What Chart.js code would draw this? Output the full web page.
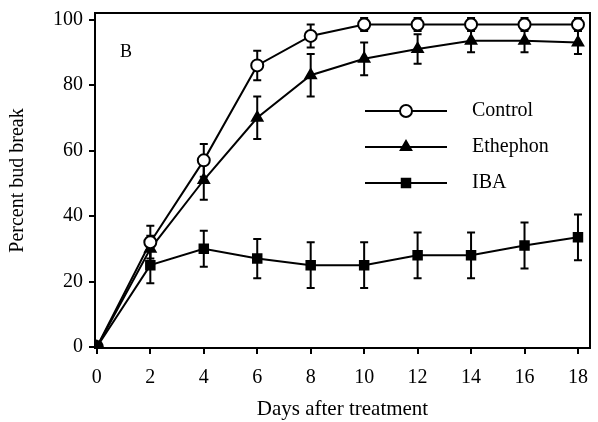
<!DOCTYPE html>
<html>
<head>
<meta charset="utf-8">
<script src="https://cdn.jsdelivr.net/npm/chart.js@4/dist/chart.umd.min.js"></script>
<style>
  body { margin: 0; background: #fff; }
  #wrap { width: 598px; height: 422px; }
</style>
</head>
<body>
<div id="wrap"><canvas id="budChart"></canvas></div>
<script>
var days = [0, 2, 4, 6, 8, 10, 12, 14, 16, 18];
var seriesNames = ['Control', 'Ethephon', 'IBA'];

var controlVals = [0, 32, 57, 86, 95, 98.5, 98.5, 98.5, 98.5, 98.5];
var controlErr  = [0, 5, 5, 4.5, 3.5, 2, 2, 2, 2, 2];

var ethephonVals = [0, 30, 51, 70, 83, 88, 91, 93.5, 93.5, 93];
var ethephonErr  = [0, 4, 6, 6.5, 6.5, 5, 4.5, 3.5, 3.5, 3.5];

var ibaVals = [0, 25, 30, 27, 25, 25, 28, 28, 31, 33.5];
var ibaErr  = [0, 5.5, 5.5, 6, 7, 7, 7, 7, 7, 7];

var yTicks = [0, 20, 40, 60, 80, 100];
var xTicks = [0, 2, 4, 6, 8, 10, 12, 14, 16, 18];

var serif = "'Liberation Serif', 'DejaVu Serif', serif";

function toPoints(vals) {
    return days.map(function (d, i) { return { x: d, y: vals[i] }; });
}

// error bars go under the markers
var errorBars = {
    id: 'errorBars',
    beforeDatasetsDraw: function (chart) {
        var ctx = chart.ctx;
        var xs = chart.scales.x, ys = chart.scales.y;
        ctx.save();
        ctx.strokeStyle = '#000';
        ctx.lineWidth = 2;
        chart.data.datasets.forEach(function (ds) {
            ds.errors.forEach(function (e, i) {
                if (!e) return;
                var px = xs.getPixelForValue(ds.data[i].x);
                var top = ys.getPixelForValue(ds.data[i].y + e);
                var bot = ys.getPixelForValue(ds.data[i].y - e);
                ctx.beginPath();
                ctx.moveTo(px, top); ctx.lineTo(px, bot);
                ctx.moveTo(px - 4, top); ctx.lineTo(px + 4, top);
                ctx.moveTo(px - 4, bot); ctx.lineTo(px + 4, bot);
                ctx.stroke();
            });
        });
        ctx.restore();
    }
};

// frame, panel letter and legend
var extras = {
    id: 'extras',
    afterDatasetsDraw: function (chart) {
        var ctx = chart.ctx;
        var area = chart.chartArea;
        ctx.save();
        ctx.strokeStyle = '#000';
        ctx.lineWidth = 2;
        ctx.beginPath();
        ctx.moveTo(area.left, area.top);
        ctx.lineTo(area.right, area.top);
        ctx.lineTo(area.right, area.bottom);
        ctx.stroke();

        ctx.fillStyle = '#000';
        ctx.font = '18px ' + serif;
        ctx.textAlign = 'left';
        ctx.textBaseline = 'middle';
        ctx.fillText('B', 120, 52);

        var rows = [111, 147, 183];
        var fills = ['#fff', '#000', '#000'];
        chart.data.datasets.forEach(function (ds, i) {
            var y = rows[i];
            ctx.strokeStyle = '#000';
            ctx.lineWidth = 2;
            ctx.beginPath();
            ctx.moveTo(365, y); ctx.lineTo(447, y);
            ctx.stroke();
            ctx.fillStyle = fills[i];
            Chart.helpers.drawPoint(ctx, { pointStyle: ds.pointStyle, radius: 6, borderWidth: 2 }, 406, y);
            ctx.fillStyle = '#000';
            ctx.font = '20px ' + serif;
            ctx.fillText(ds.label, 472, y);
        });
        ctx.restore();
    }
};

var ctx = document.getElementById('budChart').getContext('2d');
var budChart = new Chart(ctx, {
    type: 'line',
    data: {
        datasets: [{
            label: seriesNames[0],
            data: toPoints(controlVals),
            errors: controlErr,
            borderColor: '#000',
            borderWidth: 2,
            pointStyle: 'circle',
            pointRadius: 6,
            pointBorderWidth: 2,
            pointBackgroundColor: days.map(function (d) { return d === 0 ? '#000' : '#fff'; }),
            pointBorderColor: '#000',
            tension: 0
        }, {
            label: seriesNames[1],
            data: toPoints(ethephonVals),
            errors: ethephonErr,
            borderColor: '#000',
            borderWidth: 2,
            pointStyle: 'triangle',
            pointRadius: 6,
            pointBackgroundColor: '#000',
            pointBorderColor: '#000',
            tension: 0
        }, {
            label: seriesNames[2],
            data: toPoints(ibaVals),
            errors: ibaErr,
            borderColor: '#000',
            borderWidth: 2,
            pointStyle: 'rect',
            pointRadius: 6,
            pointBackgroundColor: '#000',
            pointBorderColor: '#000',
            tension: 0
        }]
    },
    options: {
        responsive: true,
        maintainAspectRatio: false,
        animation: false,
        layout: { padding: { top: 13, right: 3 } },
        plugins: {
            legend: { display: false },
            tooltip: { enabled: false }
        },
        scales: {
            x: {
                type: 'linear',
                min: -0.07,
                max: 18.45,
                afterBuildTicks: function (s) { s.ticks = xTicks.map(function (v) { return { value: v }; }); },
                afterFit: function (s) { s.height = 74; s.paddingLeft = 0; s.paddingRight = 0; },
                grid: { drawOnChartArea: false, drawTicks: true, tickLength: 6, color: '#000', lineWidth: 2 },
                border: { display: true, color: '#000', width: 2 },
                ticks: { color: '#000', font: { family: serif, size: 20 }, padding: 12, maxRotation: 0 },
                title: { display: true, text: 'Days after treatment', color: '#000', font: { family: serif, size: 21 }, padding: { top: 2, bottom: 0 } }
            },
            y: {
                min: -0.3,
                max: 102,
                afterBuildTicks: function (s) { s.ticks = yTicks.map(function (v) { return { value: v }; }); },
                afterFit: function (s) { s.width = 95; s.paddingTop = 0; s.paddingBottom = 0; },
                grid: { drawOnChartArea: false, drawTicks: true, tickLength: 6, color: '#000', lineWidth: 2 },
                border: { display: true, color: '#000', width: 2 },
                ticks: { color: '#000', font: { family: serif, size: 20 }, padding: 6 },
                title: { display: true, text: 'Percent bud break', color: '#000', font: { family: serif, size: 20 }, padding: { top: 6, bottom: 4 } }
            }
        }
    },
    plugins: [errorBars, extras]
});
</script>
</body>
</html>
